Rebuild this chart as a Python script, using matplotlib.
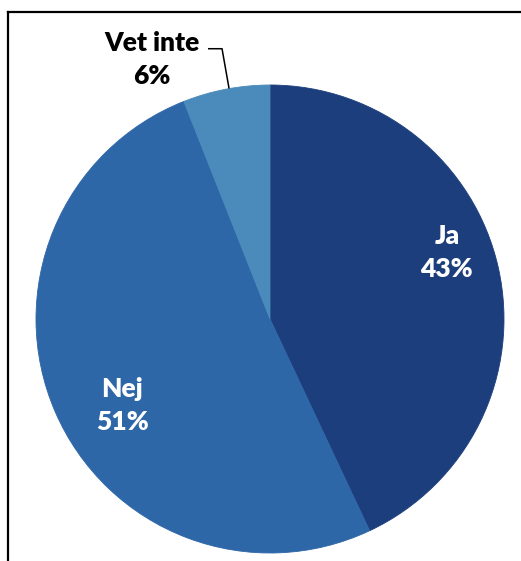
import matplotlib.pyplot as plt
from matplotlib.lines import Line2D

labels = ['Ja', 'Nej', 'Vet inte']
shares = [43, 51, 6]
colors = ['#1d3e7c', '#2e67a8', '#4a8bbb']

W, H = 521, 561
cx, cy, r = 270, 319, 234  # pie centre and radius in pixels

fig = plt.figure(figsize=(W / 100, H / 100), dpi=100)
ax = fig.add_axes([0, 0, 1, 1])

wedges, _ = ax.pie(shares, colors=colors, startangle=90, counterclock=False,
                   radius=1, center=(0, 0), frame=False)
for w in wedges:
    # edge in the fill colour hides the antialiasing seam between slices
    w.set_edgecolor(w.get_facecolor())
    w.set_linewidth(0.6)
ax.set_xlim(-cx / r, (W - cx) / r)
ax.set_ylim(-(H - cy) / r, cy / r)
ax.set_aspect('auto')
ax.set_axis_off()

font = dict(family=['Lato', 'DejaVu Sans'], fontweight='heavy', fontsize=19,
            ha='center', va='center', linespacing=1.45)

ax.text(0.756, 0.286, f'{labels[0]}\n{shares[0]}%', color='white', **font)
ax.text(-0.632, -0.368, f'{labels[1]}\n{shares[1]}%', color='white', **font)
ax.text(-0.504, 1.107, f'{labels[2]}\n{shares[2]}%', color='black', **font)

# leader line for the small slice
ax.plot([-0.265, -0.205, -0.175], [1.155, 1.155, 0.985], color='black', lw=1.1,
        solid_capstyle='butt')

# outer frame (only top and left edges fall inside the image)
fx, fy = 7.5 / W, 1 - 11.5 / H
fig.add_artist(Line2D([fx, 1], [fy, fy], color='black', lw=1.6, transform=fig.transFigure))
fig.add_artist(Line2D([fx, fx], [0, fy], color='black', lw=1.6, transform=fig.transFigure))

fig.savefig('out.png', dpi=100, facecolor='white')
